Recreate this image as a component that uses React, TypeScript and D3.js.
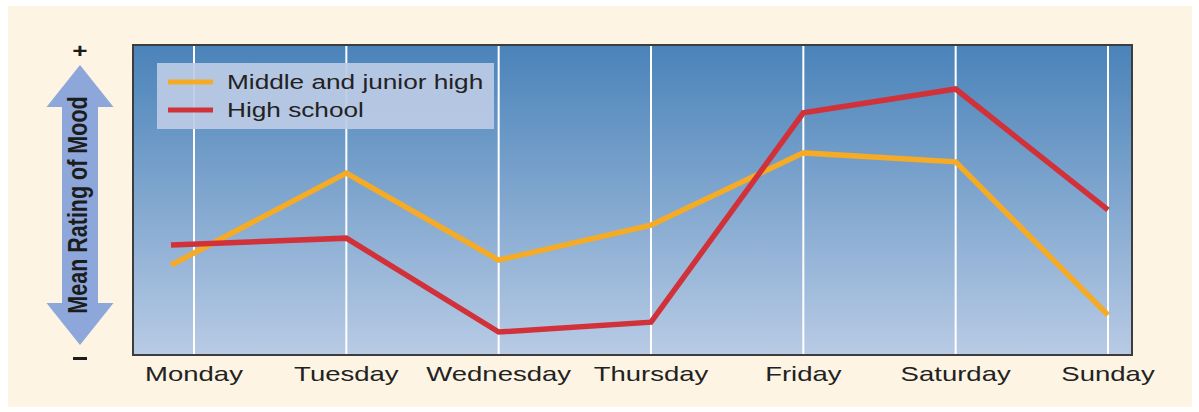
import React from "react";
import * as d3 from "d3";

const days = ["Monday", "Tuesday", "Wednesday", "Thursday", "Friday", "Saturday", "Sunday"];
const middleJunior = [29.0, 58.7, 30.6, 41.9, 65.2, 62.3, 12.9];
const highSchool = [35.5, 37.7, 7.4, 10.6, 78.1, 85.8, 46.8];
const seriesNames = ["Middle and junior high", "High school"];
const seriesColors = ["#f5ab25", "#d1323a"];
const yLabel = "Mean Rating of Mood";

const W = 1199;
const H = 412;
const plot = { left: 133, top: 45, right: 1132, bottom: 355 };
const SX = 1.31; // horizontal glyph stretch seen in the reference
const FONT = "'Liberation Sans', Arial, Helvetica, sans-serif";

export default function App() {
  const x = d3.scaleLinear().domain([0, days.length - 1]).range([194, 1108]);
  const y = d3.scaleLinear().domain([0, 100]).range([plot.bottom, plot.top]);
  const startInset = 23;

  const line = d3
    .line<[number, number]>()
    .x((d) => d[0])
    .y((d) => d[1]);

  const pts = (vals: number[]) =>
    vals.map((v, i) => [x(i) - (i === 0 ? startInset : 0), y(v)] as [number, number]);

  const series = [middleJunior, highSchool];

  // arrow geometry
  const ax = 80;
  const arrowTop = 65;
  const arrowBot = 345;
  const headH = 42;
  const headHalf = 33.5;
  const shaftHalf = 18;
  const arrowPath = [
    [ax, arrowTop],
    [ax + headHalf, arrowTop + headH],
    [ax + shaftHalf, arrowTop + headH],
    [ax + shaftHalf, arrowBot - headH],
    [ax + headHalf, arrowBot - headH],
    [ax, arrowBot],
    [ax - headHalf, arrowBot - headH],
    [ax - shaftHalf, arrowBot - headH],
    [ax - shaftHalf, arrowTop + headH],
    [ax - headHalf, arrowTop + headH],
  ];

  const legend = { x: 157, y: 63, w: 337, h: 66 };

  return (
    <svg
      width={W}
      height={H}
      style={{ position: "absolute", left: 0, top: 0, display: "block" }}
      fontFamily={FONT}
    >
      <defs>
        <linearGradient id="plotGrad" x1="0" y1="0" x2="0" y2="1">
          <stop offset="0%" stopColor="#4a83b9" />
          <stop offset="100%" stopColor="#b8cbe5" />
        </linearGradient>
      </defs>
      <rect x={0} y={0} width={W} height={H} fill="#ffffff" />
      <rect x={8} y={6} width={1184} height={401} fill="#fdf4e3" />

      {/* plot background */}
      <rect
        x={plot.left}
        y={plot.top}
        width={plot.right - plot.left}
        height={plot.bottom - plot.top}
        fill="url(#plotGrad)"
      />

      {/* vertical gridlines */}
      {days.map((d, i) => (
        <line
          key={d}
          x1={x(i)}
          x2={x(i)}
          y1={plot.top}
          y2={plot.bottom}
          stroke="#ffffff"
          strokeWidth={2}
        />
      ))}

      {/* legend */}
      <rect
        x={legend.x}
        y={legend.y}
        width={legend.w}
        height={legend.h}
        fill="#bccbe5"
        fillOpacity={0.92}
      />
      {seriesNames.map((n, i) => (
        <g key={n}>
          <line
            x1={168}
            x2={213}
            y1={82 + i * 28}
            y2={82 + i * 28}
            stroke={seriesColors[i]}
            strokeWidth={5}
          />
          <text
            transform={`translate(227, ${89 + i * 28}) scale(${SX},1)`}
            fontSize={20}
            fill="#222"
          >
            {n}
          </text>
        </g>
      ))}

      {/* data lines */}
      {series.map((vals, i) => (
        <path
          key={i}
          d={line(pts(vals)) || ""}
          fill="none"
          stroke={seriesColors[i]}
          strokeWidth={5.5}
          strokeLinejoin="miter"
          strokeLinecap="butt"
        />
      ))}

      {/* plot border */}
      <rect
        x={plot.left}
        y={plot.top}
        width={plot.right - plot.left}
        height={plot.bottom - plot.top}
        fill="none"
        stroke="#3d3d3d"
        strokeWidth={2}
      />

      {/* x labels */}
      {days.map((d, i) => (
        <text
          key={d}
          transform={`translate(${x(i)}, 381) scale(${SX},1)`}
          textAnchor="middle"
          fontSize={21}
          fill="#222"
        >
          {d}
        </text>
      ))}

      {/* y arrow */}
      <polygon points={arrowPath.map((p) => p.join(",")).join(" ")} fill="#8ea7da" />
      <text
        transform={`translate(${ax + 7}, 205) scale(${SX},1) rotate(-90)`}
        textAnchor="middle"
        fontSize={21.5}
        fontWeight="bold"
        fill="#1c1c1c"
      >
        {yLabel}
      </text>
      <text
        transform={`translate(${ax}, 58) scale(${SX},1)`}
        textAnchor="middle"
        fontSize={20}
        fontWeight="bold"
        fill="#1c1c1c"
      >
        +
      </text>
      <rect x={ax - 7} y={357} width={14} height={3} fill="#1c1c1c" />
    </svg>
  );
}
